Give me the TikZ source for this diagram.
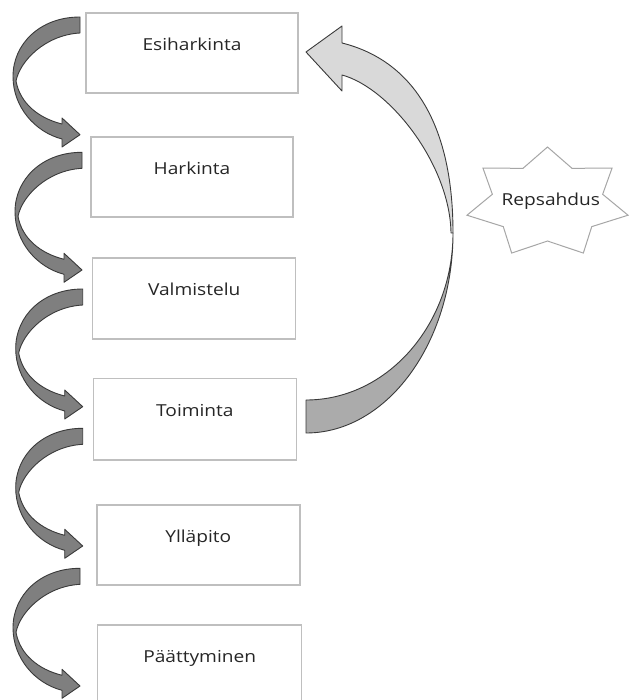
\documentclass[tikz,border=0pt]{standalone}
\usepackage{fontspec}
\setmainfont{Open Sans}[FakeStretch=1.16]
\definecolor{boxline}{HTML}{BFBFBF}
\definecolor{arrowfill}{HTML}{7F7F7F}
\definecolor{arrowline}{HTML}{3A3A3A}
\definecolor{backfill}{HTML}{ABABAB}
\definecolor{frontfill}{HTML}{D9D9D9}
\definecolor{starline}{HTML}{A6A6A6}
\definecolor{ink}{HTML}{262626}
\begin{document}
\begin{tikzpicture}[x=1pt,y=-1pt,
  stage/.style={draw=boxline, line width=1.4pt, fill=white, rectangle, inner sep=0pt},
  stagetext/.style={anchor=base, text=ink, inner sep=0pt, font=\fontsize{16.5}{20}\selectfont},
  turnshape/.style={fill=arrowfill, draw=arrowline, line width=0.9pt, line join=round},
  loopshape/.style={draw=arrowline, line width=0.9pt, line join=round},
  burst/.style={draw=starline, line width=1pt, fill=white, line join=miter},
  turnarrow/.pic={
    \filldraw[turnshape] (0,0) .. controls (-40,0) and (-67,27) .. (-67,59.4)
      .. controls (-67,90) and (-45,115) .. (-18,122)
      -- (-18,130) -- (0,117.7) -- (-18,101) -- (-18,107)
      .. controls (-42,101) and (-60,86) .. (-64,64)
      .. controls (-60,44) and (-35,18) .. (0,16) -- cycle;
  }]
\useasboundingbox (0,0) rectangle (629,700);
\fill[white] (0,0) rectangle (629,700);

% stage boxes
\node[stage, minimum width=212pt, minimum height=80pt] (esi) at (192,53) {};
\node[stage, minimum width=202pt, minimum height=80pt] (har) at (192,177) {};
\node[stage, minimum width=203pt, minimum height=81pt] (val) at (194.2,298.5) {};
\node[stage, minimum width=203pt, minimum height=81.5pt] (toi) at (194.9,419.2) {};
\node[stage, minimum width=203pt, minimum height=80pt] (yll) at (198.3,545) {};
\node[stage, minimum width=204pt, minimum height=81pt] (paa) at (199.7,665.5) {};

% stage labels
\node[stagetext] (esiT) at ([yshift=-38.5pt]esi.north) {Esiharkinta};
\node[stagetext] (harT) at ([yshift=-38.5pt]har.north) {Harkinta};
\node[stagetext] (valT) at ([yshift=-38.5pt]val.north) {Valmistelu};
\node[stagetext] (toiT) at ([yshift=-38.5pt]toi.north) {Toiminta};
\node[stagetext] (yllT) at ([yshift=-38.5pt]yll.north) {Ylläpito};
\node[stagetext] (paaT) at ([yshift=-38.5pt]paa.north) {Päättyminen};

% curved block arrows between consecutive stages
\pic at (80,17) {turnarrow};
\pic at (82,152.3) {turnarrow};
\pic at (82.7,289) {turnarrow};
\pic at (82.7,428.3) {turnarrow};
\pic at (80,568.3) {turnarrow};

% relapse loop back to the first stage
\filldraw[loopshape, fill=backfill] (306,433) .. controls (387,433) and (453,343) .. (453,233)
  .. controls (453,325) and (387,400) .. (306,400) -- cycle;
\filldraw[loopshape, fill=frontfill] (453,233) .. controls (453,120) and (410,60) .. (342,43)
  -- (342,26) -- (306,52) -- (342,91) -- (342,75)
  .. controls (390,88) and (450,165) .. (451,233) -- cycle;

% seven-point burst
\draw[burst, shift={(547.5,202.8)}] (-90:82.6 and 55.8)
  \foreach \i [evaluate=\i as \r using {mod(\i,2)==0 ? 1 : 0.685}] in {1,...,13} {
    -- ({-90+\i*360/14}:{82.6*\r} and {55.8*\r})
  } -- cycle;
\node[stagetext] (rep) at (550.8,206) {Repsahdus};
\end{tikzpicture}
\end{document}
